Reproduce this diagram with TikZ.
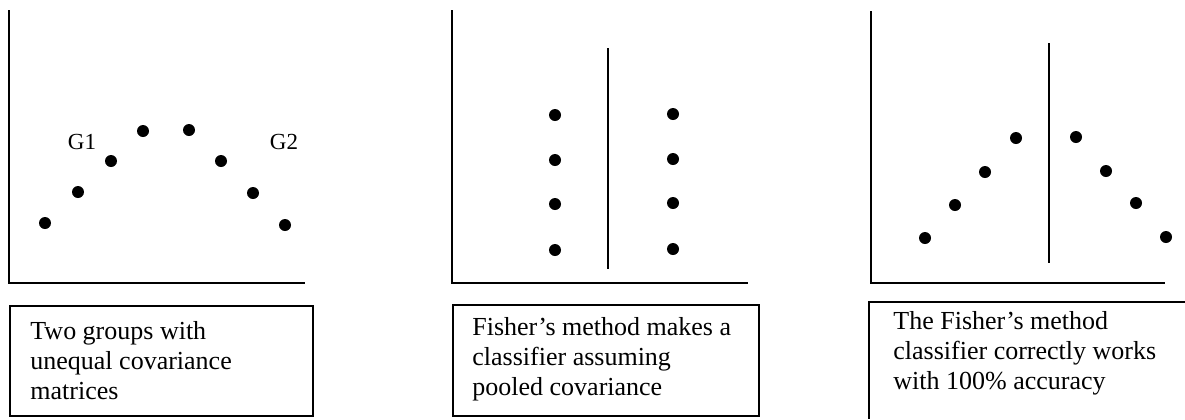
\documentclass[tikz,border=0pt]{standalone}
\usepackage{fontspec}
\setmainfont{Liberation Serif}
\begin{document}
\begin{tikzpicture}[x=0.5pt,y=-0.5pt,
  axis/.style={line width=1pt},
  divider/.style={line width=0.7pt},
  pt/.style={circle,fill=black,inner sep=0pt,minimum size=6pt},
  capbox/.style={draw,line width=0.75pt,inner sep=0pt,anchor=north west},
  captext/.style={anchor=base west,align=left,inner sep=0pt,font=\fontsize{13}{14.8}\selectfont},
  glabel/.style={font=\fontsize{11.5}{13}\selectfont,inner sep=0pt}]
\useasboundingbox (0,0) rectangle (1185,419);
% ---------- panel 1 ----------
\coordinate (a1t) at (9,10);
\coordinate (a1o) at (9,283);
\coordinate (a1r) at (305,283);
\draw[axis] (a1t) -- (a1o) -- (a1r);
\node[pt] (p11) at (45,223) {};
\node[pt] (p12) at (78,192) {};
\node[pt] (p13) at (111,161) {};
\node[pt] (p14) at (143,131) {};
\node[pt] (p15) at (189,130) {};
\node[pt] (p16) at (221,161) {};
\node[pt] (p17) at (253,193) {};
\node[pt] (p18) at (285,225) {};
\node[glabel] (g1) at (82,142) {G1};
\node[glabel] (g2) at (284,142) {G2};
\node[capbox,minimum width=151.5pt,minimum height=55pt] (b1) at (9,305) {};
\node[captext] (t1) at (30,399) {Two groups with\\unequal covariance\\matrices};
% ---------- panel 2 ----------
\coordinate (a2t) at (452,10);
\coordinate (a2o) at (452,283);
\coordinate (a2r) at (748,283);
\draw[axis] (a2t) -- (a2o) -- (a2r);
\coordinate (d2t) at (608,48);
\coordinate (d2b) at (608,269);
\draw[divider] (d2t) -- (d2b);
\node[pt] (p21) at (555,115) {};
\node[pt] (p22) at (555,160) {};
\node[pt] (p23) at (555,204) {};
\node[pt] (p24) at (555,250) {};
\node[pt] (p25) at (673,114) {};
\node[pt] (p26) at (673,159) {};
\node[pt] (p27) at (673,203) {};
\node[pt] (p28) at (673,249) {};
\node[capbox,minimum width=153pt,minimum height=55.5pt] (b2) at (452,304) {};
\node[captext] (t2) at (472,395) {Fisher’s method makes a\\classifier assuming\\pooled covariance};
% ---------- panel 3 ----------
\coordinate (a3t) at (871,11);
\coordinate (a3o) at (871,283);
\coordinate (a3r) at (1165,283);
\draw[axis] (a3t) -- (a3o) -- (a3r);
\coordinate (d3t) at (1049,43);
\coordinate (d3b) at (1049,263);
\draw[divider] (d3t) -- (d3b);
\node[pt] (p31) at (925,238) {};
\node[pt] (p32) at (955,205) {};
\node[pt] (p33) at (985,172) {};
\node[pt] (p34) at (1016,138) {};
\node[pt] (p35) at (1076,137) {};
\node[pt] (p36) at (1106,171) {};
\node[pt] (p37) at (1136,203) {};
\node[pt] (p38) at (1166,237) {};
\coordinate (b3r) at (1185,302);
\coordinate (b3c) at (869,302);
\coordinate (b3b) at (869,419);
\draw[line width=0.75pt] (b3r) -- (b3c) -- (b3b);
\node[captext] (t3) at (893,389) {The Fisher’s method\\classifier correctly works\\with 100\% accuracy};
\end{tikzpicture}
\end{document}
